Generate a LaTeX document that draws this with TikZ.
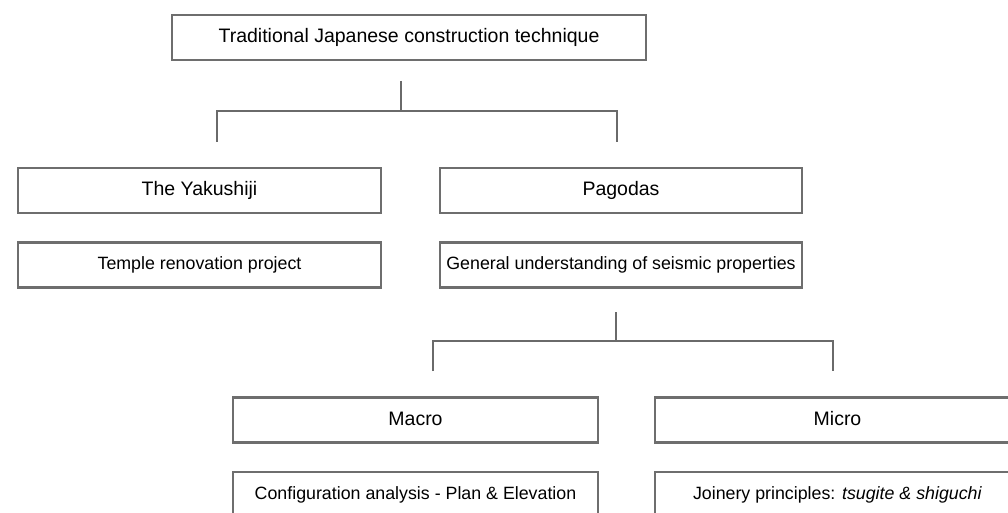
\documentclass[tikz,border=0pt]{standalone}
\usepackage{fontspec}
\setmainfont{Liberation Sans}
\definecolor{boxgray}{HTML}{6E6E6E}
\definecolor{linegray}{HTML}{6A6A6A}
\definecolor{txt}{HTML}{000000}
\begin{document}
\begin{tikzpicture}[x=1pt,y=-1pt,
  box/.style={draw=boxgray, line width=2.2pt, fill=white, text=txt, inner sep=0pt,
              minimum height=45pt, text height=14pt, text depth=4pt},
  big/.style={font=\fontsize{19.5}{22}\selectfont},
  small/.style={font=\fontsize{17.8}{20}\selectfont, text height=13pt, text depth=4pt},
  link/.style={draw=linegray, line width=2pt}]
\clip (0,0) rectangle (1008,513);
\fill[white] (0,0) rectangle (1008,513);

% nodes
\node[box,big,minimum width=474pt] (title) at (409,37.5) {Traditional Japanese construction technique};
\node[box,big,minimum width=363pt] (yaku) at (199.5,190.5) {The Yakushiji};
\node[box,small,minimum width=363pt] (temple) at (199.5,265) {Temple renovation project};
\node[box,big,minimum width=362pt] (pago) at (621,190.5) {Pagodas};
\node[box,small,minimum width=362pt] (general) at (621,265) {General understanding of seismic properties};
\node[box,big,minimum width=365pt] (macro) at (415.5,420) {Macro};
\node[box,small,minimum width=365pt] (config) at (415.5,494.5) {Configuration analysis - Plan \& Elevation};
\node[box,big,minimum width=365pt] (micro) at (837.5,420) {Micro};
\node[box,small,minimum width=365pt] (join) at (837.5,494.5) {Joinery principles: \textit{tsugite \& shiguchi}};

% connector coordinates
\coordinate (ta) at (401,81);
\coordinate (tb) at (401,111);
\coordinate (tl) at (217,111);
\coordinate (tr) at (617,111);
\coordinate (tld) at (217,142);
\coordinate (trd) at (617,142);

\coordinate (ga) at (616,312);
\coordinate (gb) at (616,341);
\coordinate (gl) at (433,341);
\coordinate (gr) at (833,341);
\coordinate (gld) at (433,371);
\coordinate (grd) at (833,371);

\draw[link] (ta) -- (tb);
\draw[link] (tld) -- (tl) -- (tr) -- (trd);
\draw[link] (ga) -- (gb);
\draw[link] (gld) -- (gl) -- (gr) -- (grd);
\end{tikzpicture}
\end{document}
